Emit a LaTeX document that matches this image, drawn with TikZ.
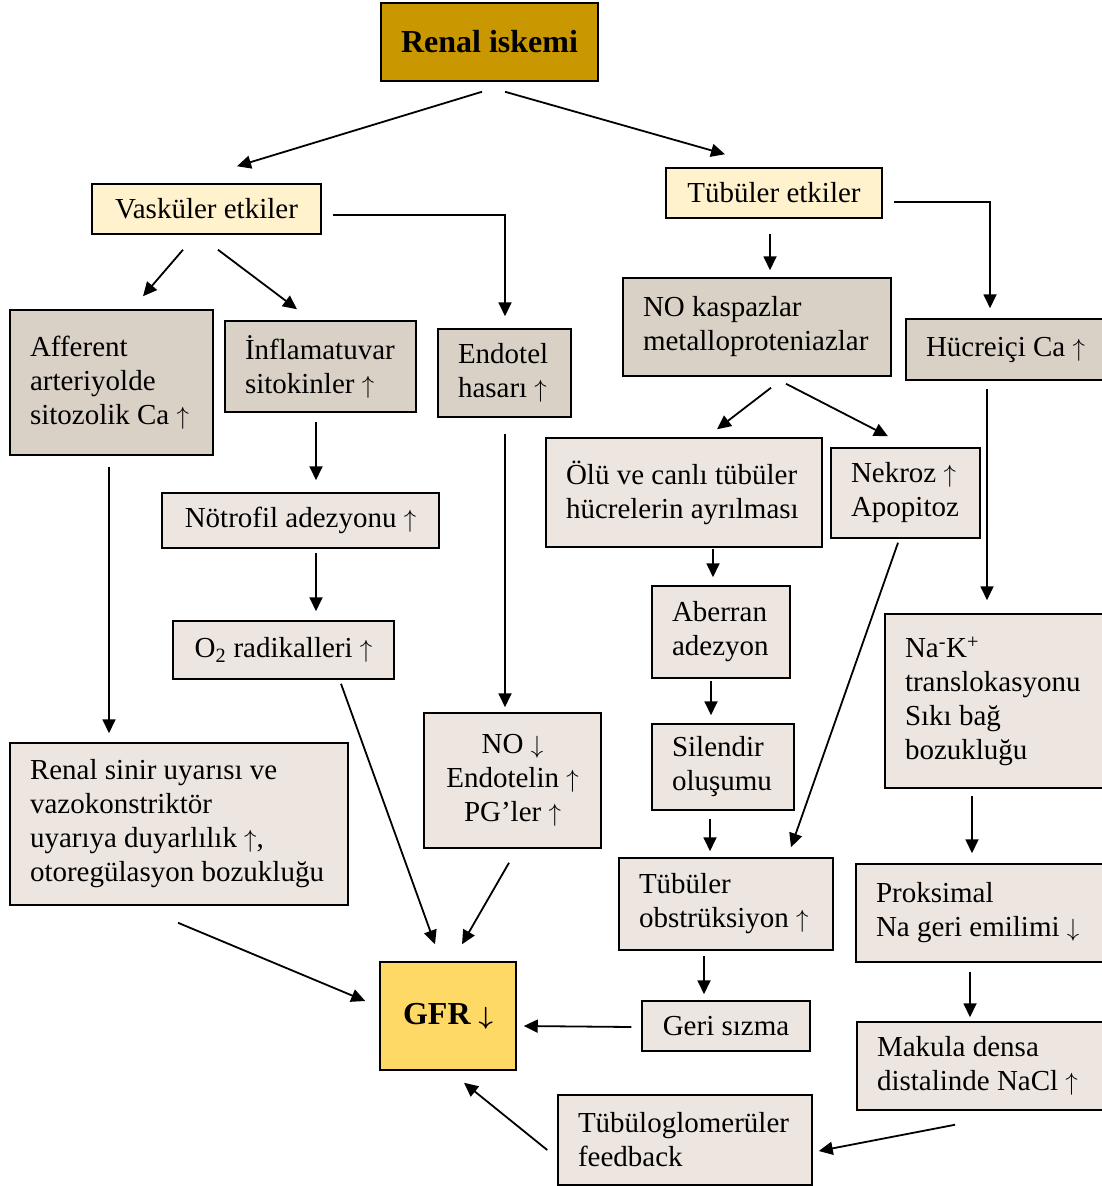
\documentclass[tikz,border=0pt]{standalone}
\usepackage{fontspec}
\setmainfont{Liberation Serif}
\usetikzlibrary{arrows.meta,calc}
\definecolor{goldbox}{RGB}{201,151,0}
\definecolor{gfrbox}{RGB}{255,217,102}
\definecolor{creambox}{RGB}{255,242,204}
\definecolor{darkbox}{RGB}{217,209,197}
\definecolor{lightbox}{RGB}{237,230,224}
\newcommand\incr{$\uparrow$}
\newcommand\decr{$\downarrow$}
\newcommand\nohyph{\hyphenpenalty=10000\relax\exhyphenpenalty=10000\relax}
\begin{document}
\begin{tikzpicture}[x=1pt,y=-1pt,
  basebox/.style={draw=black,line width=1.5pt,inner ysep=0pt,inner xsep=20pt,
    font=\fontsize{29pt}{34pt}\selectfont\nohyph},
  centerbox/.style={basebox,align=center,inner xsep=0pt},
  leftbox/.style={basebox,align=flush left},
  dark/.style={fill=darkbox},
  light/.style={fill=lightbox},
  arr/.style={line width=1.8pt,-{Triangle[length=14pt,width=13pt]}}]
\useasboundingbox (0,0) rectangle (1101,1186);

% top level
\node[centerbox,fill=goldbox,minimum width=217,minimum height=78,
  font=\fontsize{32pt}{36pt}\selectfont\bfseries] (ren) at (489.5,42) {Renal iskemi};
\node[centerbox,fill=creambox,minimum width=229,minimum height=50] (vas) at (206.5,209) {Vasküler etkiler};
\node[centerbox,fill=creambox,minimum width=216,minimum height=50] (tub) at (774,193) {Tübüler etkiler};

% vascular branch
\node[leftbox,dark,minimum height=145,text width=163pt] (aff) at (111.5,382.5)
  {Afferent\\arteriyolde\\sitozolik~Ca~\incr};
\node[leftbox,dark,minimum height=91,text width=151pt] (inf) at (320.5,366.5)
  {İnflamatuvar\\sitokinler~\incr};
\node[leftbox,dark,minimum height=88,text width=93pt] (end) at (504.5,373)
  {Endotel\\hasarı~\incr};
\node[centerbox,light,minimum width=277,minimum height=55] (not) at (300.5,520.5)
  {Nötrofil adezyonu \incr};
\node[centerbox,light,minimum width=221,minimum height=58] (o2) at (283.5,650)
  {O\textsubscript{2} radikalleri \incr};
\node[leftbox,light,minimum height=162,text width=298pt] (rsn) at (179,824)
  {Renal~sinir~uyarısı~ve\\vazokonstriktör\\uyarıya~duyarlılık~\incr,\\otoregülasyon~bozukluğu};
\node[centerbox,light,minimum width=177,minimum height=135] (nod) at (512.5,780.5)
  {NO \decr\\Endotelin \incr\\PG’ler \incr};

% tubular branch
\node[leftbox,dark,minimum height=98,text width=228pt] (nok) at (757,327)
  {NO~kaspazlar\\metalloproteniazlar};
\node[leftbox,dark,minimum height=61,text width=159pt] (hca) at (1005.5,349.5)
  {Hücreiçi~Ca~\incr};
\node[leftbox,light,minimum height=109,text width=236pt] (olu) at (684,492.5)
  {Ölü~ve~canlı~tübüler\\hücrelerin~ayrılması};
\node[leftbox,light,minimum height=90,text width=109pt] (nek) at (905.5,493)
  {Nekroz~\incr\\Apopitoz};
\node[leftbox,light,minimum height=92,text width=98pt] (abe) at (721,632)
  {Aberran\\adezyon};
\node[leftbox,light,minimum height=86,text width=102pt] (sil) at (723,767)
  {Silendir\\oluşumu};
\node[leftbox,light,minimum height=174,text width=180pt] (nak) at (995,701)
  {Na\textsuperscript{-}K\textsuperscript{+}\\translokasyonu\\Sıkı~bağ\\bozukluğu};
\node[leftbox,light,minimum height=92,text width=174pt] (obs) at (726,904)
  {Tübüler\\obstrüksiyon~\incr};
\node[leftbox,light,minimum height=98,text width=209pt] (pro) at (980.5,913)
  {Proksimal\\Na~geri~emilimi~\decr};
\node[centerbox,light,minimum width=168,minimum height=50] (ger) at (726,1026)
  {Geri sızma};
\node[leftbox,light,minimum height=88,text width=208pt] (mak) at (981,1066)
  {Makula~densa\\distalinde~NaCl~\incr};
\node[leftbox,light,minimum height=90,text width=214pt] (tgf) at (685,1140)
  {Tübüloglomerüler\\feedback};

% outcome
\node[centerbox,fill=gfrbox,minimum width=136,minimum height=108,
  font=\fontsize{32pt}{36pt}\selectfont\bfseries\boldmath] (gfr) at (448,1016) {GFR \decr};

% connectors
\draw[arr] ($(ren.south)+(-7.5,10)$) -- ($(vas.north)+(30.5,-17)$);
\draw[arr] ($(ren.south)+(15.5,10)$) -- ($(tub.north)+(-49,-13)$);
\draw[arr] ($(vas.south)+(-23.5,15)$) -- ($(aff.north)+(31.5,-13)$);
\draw[arr] ($(vas.south)+(11.5,15)$) -- ($(inf.north)+(-23.5,-11)$);
\draw[arr] ($(vas.east)+(11,6)$) -| ($(end.north)+(0.5,-12)$);
\draw[arr] ($(tub.south)+(-4,15)$) -- ($(nok.north)+(13,-7)$);
\draw[arr] ($(tub.east)+(11,9)$) -| ($(hca.north)+(-15.5,-10)$);
\draw[arr] ($(inf.south)+(-4.5,9)$) -- ($(not.north)+(15.5,-12)$);
\draw[arr] ($(not.south)+(15.5,4)$) -- ($(o2.north)+(32.5,-9)$);
\draw[arr] ($(aff.south)+(-2.5,11)$) -- ($(rsn.north)+(-70,-9)$);
\draw[arr] ($(end.south)+(0.5,16)$) -- ($(nod.north)+(-7.5,-5)$);
\draw[arr] ($(nok.south)+(14,11)$) -- ($(olu.north)+(33,-8)$);
\draw[arr] ($(nok.south)+(29,7)$) -- ($(nek.north)+(-17.5,-11)$);
\draw[arr] ($(hca.south)+(-18.5,8)$) -- ($(nak.north)+(-8,-13)$);
\draw[arr] ($(olu.south)+(29,1)$) -- ($(abe.north)+(-8,-8)$);
\draw[arr] ($(abe.south)+(-10,2)$) -- ($(sil.north)+(-12,-8)$);
\draw[arr] ($(sil.south)+(-13,8)$) -- ($(obs.north)+(-16,-6)$);
\draw[arr] ($(nek.south)+(-7.5,4)$) -- ($(obs.north)+(65,-10)$);
\draw[arr] ($(nak.south)+(-23,7)$) -- ($(pro.north)+(-8.5,-10)$);
\draw[arr] ($(pro.south)+(-10.5,9)$) -- ($(mak.north)+(-11,-4)$);
\draw[arr] ($(obs.south)+(-22,5)$) -- ($(ger.north)+(-22,-6)$);
\draw[arr] ($(ger.west)+(-10,1)$) -- ($(gfr.east)+(7,10)$);
\draw[arr] ($(mak.south)+(-26,14)$) -- ($(tgf.east)+(6,11)$);
\draw[arr] ($(tgf.west)+(-10,10)$) -- ($(gfr.south)+(16,12)$);
\draw[arr] ($(rsn.south)+(-1,17)$) -- ($(gfr.west)+(-14,-15)$);
\draw[arr] ($(o2.south)+(57.5,4)$) -- ($(gfr.north)+(-13,-17)$);
\draw[arr] ($(nod.south)+(-3.5,14)$) -- ($(gfr.north)+(14,-17)$);
\end{tikzpicture}
\end{document}
